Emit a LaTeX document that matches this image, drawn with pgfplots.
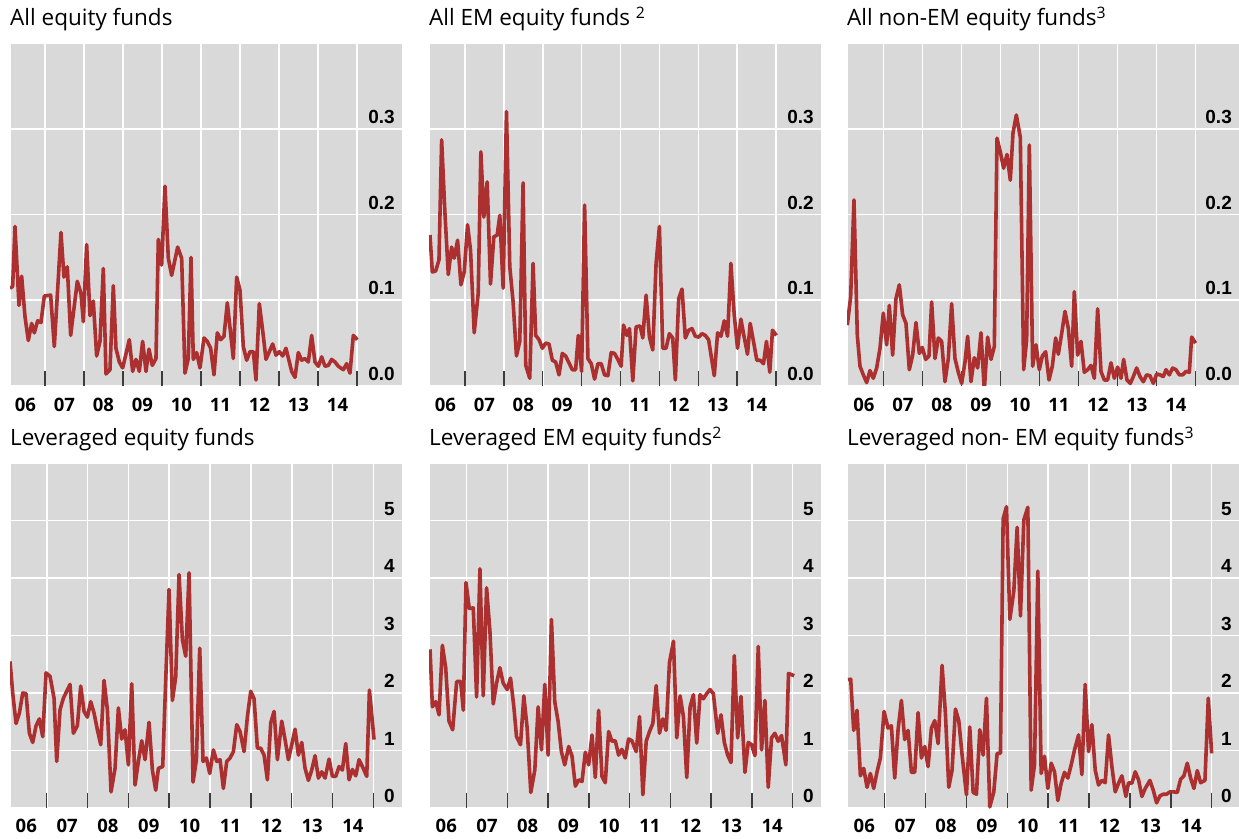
\documentclass[border=0pt]{standalone}
\usepackage{fontspec}
\setmainfont{Open Sans}
\newfontfamily\ticksf{Liberation Sans}
\usepackage{pgfplots}
\pgfplotsset{compat=1.18}
\definecolor{bg}{RGB}{217,217,217}
\definecolor{ln}{RGB}{172,48,48}
\definecolor{tk}{RGB}{60,60,60}
\pgfplotsset{
  panel/.style={
    scale only axis, width=392pt,
    axis background/.style={fill=bg},
    axis line style={draw=white, line width=0.8pt},
    ymin=0,
    ymajorgrids,
    major grid style={draw=white, line width=1.6pt},
    major tick length=0pt,
    xtick pos=left, ytick pos=right, yticklabel pos=right,
    xtick={2006.5,2007.5,2008.5,2009.5,2010.5,2011.5,2012.5,2013.5,2014.5},
    xticklabels={06,07,08,09,10,11,12,13,14},
    xticklabel style={font=\fontsize{18.5}{20}\selectfont\bfseries, inner sep=0pt, anchor=north, yshift=-12pt},
    yticklabel style={font=\ticksf\fontsize{19}{20}\selectfont\bfseries, inner sep=0pt, anchor=south east, xshift=-7pt, yshift=5pt},
    extra x ticks={2007,2008,2009,2010,2011,2012,2013,2014,2015},
    extra x tick labels={},
    extra x tick style={grid=major, major tick length=15pt, tick align=inside, tick style={draw=tk, line width=1.5pt}},
    title style={at={(0,1)}, anchor=base west, yshift=11pt, inner sep=0pt, font=\fontsize{22.5}{27}\selectfont},
  },
  dat/.style={draw=ln, line width=3.6pt, mark=none, line join=round},
  toprow/.style={panel, height=343pt, ymax=0.4, ytick={0,0.1,0.2,0.3}, yticklabels={0.0,0.1,0.2,0.3}},
  botrow/.style={panel, height=345pt, ymax=6, ytick={0,1,2,3,4,5}, yticklabels={0,1,2,3,4,5}},
}
\begin{document}
\begin{tikzpicture}
\useasboundingbox (0,0) rectangle (1239pt,838pt);
% x values are positions (pixels); the filter maps them to years
\begin{axis}[toprow, at={(10pt,452pt)}, anchor=south west, xmin=2006.103, xmax=2016.154,
  title={All equity funds}, x filter/.expression={2007+(x-135)/117}]
\addplot[dat] coordinates {(30,0.114) (38,0.116) (45,0.186) (57,0.094) (65,0.128) (75,0.081) (85,0.053) (95,0.073) (103,0.062) (113,0.076) (123,0.074) (133,0.105) (152,0.106) (163,0.046) (183,0.179) (192,0.127) (202,0.139) (212,0.059) (232,0.122) (243,0.108) (250,0.075) (260,0.165) (270,0.082) (280,0.099) (290,0.035) (300,0.052) (310,0.137) (318,0.014) (330,0.019) (340,0.117) (348,0.044) (358,0.028) (368,0.021) (388,0.054) (398,0.017) (408,0.031) (418,0.017) (428,0.052) (438,0.017) (447,0.043) (457,0.024) (468,0.032) (475,0.171) (485,0.141) (495,0.233) (505,0.149) (515,0.129) (533,0.162) (545,0.149) (555,0.015) (565,0.032) (573,0.150) (580,0.031) (590,0.039) (600,0.021) (612,0.056) (622,0.052) (632,0.044) (642,0.013) (652,0.062) (662,0.054) (672,0.058) (682,0.097) (700,0.032) (710,0.127) (720,0.112) (730,0.046) (740,0.030) (750,0.040) (760,0.040) (768,0.007) (778,0.096) (788,0.065) (798,0.031) (818,0.049) (828,0.036) (838,0.040) (848,0.035) (858,0.044) (875,0.017) (885,0.010) (895,0.039) (905,0.030) (915,0.032) (925,0.028) (935,0.059) (945,0.028) (955,0.023) (965,0.034) (975,0.023) (985,0.024) (995,0.031) (1005,0.028) (1015,0.023) (1030,0.019) (1040,0.026) (1050,0.015) (1060,0.059) (1072,0.054)};
\end{axis}
\begin{axis}[toprow, at={(429pt,452pt)}, anchor=south west, xmin=2006.077, xmax=2016.154,
  title={All EM equity funds \textsuperscript{2}}, x filter/.expression={2007+(x-135)/117}]
\addplot[dat] coordinates {(30,0.176) (37,0.133) (47,0.134) (57,0.147) (65,0.287) (75,0.201) (85,0.130) (95,0.162) (103,0.149) (113,0.170) (123,0.118) (133,0.133) (143,0.188) (152,0.158) (163,0.062) (175,0.108) (183,0.273) (192,0.197) (202,0.238) (212,0.119) (222,0.174) (232,0.176) (240,0.199) (250,0.114) (260,0.320) (270,0.139) (280,0.098) (290,0.035) (300,0.052) (310,0.237) (318,0.024) (330,0.009) (340,0.143) (348,0.059) (358,0.054) (368,0.044) (378,0.050) (388,0.049) (398,0.030) (408,0.028) (418,0.013) (428,0.038) (438,0.035) (448,0.027) (458,0.019) (468,0.019) (476,0.059) (486,0.017) (495,0.211) (505,0.032) (515,0.026) (525,0.008) (535,0.026) (545,0.026) (555,0.013) (565,0.012) (575,0.039) (585,0.038) (595,0.031) (605,0.023) (612,0.071) (622,0.059) (630,0.067) (640,0.006) (650,0.069) (662,0.070) (670,0.056) (680,0.106) (690,0.057) (700,0.042) (710,0.143) (720,0.186) (730,0.044) (740,0.044) (750,0.061) (760,0.056) (768,0.007) (778,0.102) (788,0.113) (798,0.056) (808,0.065) (818,0.067) (828,0.058) (838,0.057) (848,0.061) (858,0.059) (868,0.054) (885,0.012) (895,0.062) (905,0.058) (915,0.076) (925,0.058) (935,0.143) (945,0.083) (955,0.044) (965,0.078) (975,0.057) (985,0.037) (993,0.073) (1003,0.052) (1013,0.030) (1023,0.030) (1033,0.026) (1042,0.052) (1052,0.016) (1060,0.065) (1072,0.059)};
\end{axis}
\begin{axis}[toprow, at={(847pt,452pt)}, anchor=south west, xmin=2006.069, xmax=2016.12,
  title={All non-EM equity funds\textsuperscript{3}}, x filter/.expression={2007+(x-145)/117}]
\addplot[dat] coordinates {(37,0.071) (47,0.104) (57,0.217) (67,0.059) (75,0.023) (85,0.013) (95,0.004) (105,0.018) (115,0.009) (125,0.021) (135,0.044) (145,0.085) (155,0.048) (163,0.094) (173,0.036) (183,0.102) (193,0.118) (203,0.083) (213,0.073) (223,0.019) (233,0.036) (243,0.074) (253,0.038) (262,0.045) (272,0.031) (282,0.035) (290,0.098) (300,0.032) (310,0.056) (320,0.052) (330,0.005) (340,0.032) (350,0.096) (360,0.032) (370,0.016) (380,0.003) (390,0.028) (398,0.058) (408,0.005) (418,0.033) (428,0.021) (438,0.062) (448,-0.005) (458,0.057) (468,0.031) (478,0.046) (486,0.289) (496,0.273) (506,0.254) (516,0.270) (526,0.240) (534,0.295) (544,0.316) (556,0.290) (566,0.019) (575,0.054) (583,0.281) (593,0.023) (603,0.048) (613,0.019) (622,0.035) (632,0.040) (642,0.007) (652,0.023) (662,0.056) (670,0.037) (680,0.061) (690,0.087) (700,0.067) (710,0.023) (718,0.110) (728,0.036) (738,0.052) (748,0.016) (758,0.019) (768,0.024) (778,0.009) (788,0.090) (798,0.017) (808,0.007) (818,0.007) (828,0.027) (838,0.009) (848,0.022) (858,0.009) (866,0.031) (876,0.007) (886,0.003) (895,0.011) (905,0.021) (915,0.011) (925,0.005) (935,0.013) (945,0.012) (955,0.003) (965,0.014) (975,0.013) (985,0.011) (993,0.019) (1003,0.013) (1013,0.021) (1023,0.019) (1033,0.013) (1043,0.013) (1053,0.017) (1063,0.016) (1070,0.057) (1082,0.050)};
\end{axis}
\begin{axis}[botrow, at={(10pt,30pt)}, anchor=south west, xmin=2006.101, xmax=2015.70,
  xticklabel style={yshift=1pt},
  title={Leveraged equity funds}, x filter/.expression={2007+(x-140)/122.5}]
\addplot[dat] coordinates {(30,2.55) (38,2.00) (48,1.47) (58,1.65) (68,2.00) (78,1.99) (88,1.30) (98,1.14) (108,1.43) (118,1.55) (128,1.24) (138,2.35) (150,2.29) (162,1.91) (170,0.81) (180,1.71) (190,1.91) (200,2.03) (210,2.15) (220,1.30) (232,1.43) (242,2.12) (252,1.68) (262,1.58) (272,1.85) (282,1.65) (292,1.36) (302,1.10) (312,2.22) (322,1.71) (333,0.28) (345,0.69) (355,1.74) (365,1.20) (375,1.36) (385,0.75) (395,2.16) (405,0.40) (415,0.81) (425,1.17) (435,0.84) (447,1.49) (457,0.66) (467,0.31) (475,0.69) (488,0.72) (497,2.23) (507,3.80) (517,1.87) (527,2.28) (537,4.06) (547,2.93) (557,2.64) (567,4.09) (579,0.45) (589,0.84) (599,2.78) (609,0.81) (619,0.87) (629,0.60) (640,1.01) (650,0.81) (660,0.84) (670,0.34) (680,0.81) (690,0.87) (700,0.98) (710,1.45) (720,1.33) (732,0.98) (742,1.59) (752,2.03) (762,1.90) (772,1.04) (782,1.04) (792,0.92) (802,0.49) (812,1.48) (822,1.68) (832,0.84) (845,1.51) (855,1.19) (865,0.84) (875,1.10) (885,1.37) (895,0.92) (905,1.14) (915,0.69) (925,0.48) (935,0.66) (945,0.91) (955,0.52) (965,0.63) (975,0.52) (987,0.85) (997,0.55) (1007,0.55) (1017,0.72) (1027,0.66) (1037,1.12) (1047,0.49) (1057,0.67) (1067,0.56) (1077,0.84) (1087,0.72) (1100,0.55) (1108,2.05) (1122,1.19)};
\end{axis}
\begin{axis}[botrow, at={(429pt,30pt)}, anchor=south west, xmin=2006.076, xmax=2015.70,
  xticklabel style={yshift=1pt},
  title={Leveraged EM equity funds\textsuperscript{2}}, x filter/.expression={2007+(x-140)/122.5}]
\addplot[dat] coordinates {(30,2.76) (37,1.76) (47,1.85) (57,1.62) (67,2.83) (77,2.44) (87,1.51) (98,1.36) (110,2.20) (122,2.20) (130,1.70) (138,3.92) (148,3.47) (160,3.48) (170,1.93) (180,4.16) (190,1.95) (200,3.83) (210,3.08) (220,1.81) (230,2.17) (240,2.44) (250,2.17) (262,2.06) (272,2.26) (282,1.76) (290,1.24) (302,1.10) (312,1.95) (322,1.39) (333,0.27) (345,0.66) (355,1.76) (365,1.01) (375,2.15) (385,0.92) (395,3.28) (405,1.85) (415,1.51) (425,0.98) (435,0.75) (447,1.07) (457,0.90) (467,0.38) (477,0.49) (487,0.46) (497,0.97) (507,0.75) (517,1.27) (527,0.53) (537,1.70) (547,0.55) (557,0.44) (567,1.33) (577,1.16) (587,1.17) (597,0.92) (607,1.02) (617,0.87) (627,1.20) (637,1.17) (650,0.98) (660,1.59) (670,0.23) (680,1.16) (690,1.33) (700,1.47) (710,2.13) (720,1.30) (730,1.55) (740,1.35) (750,2.53) (762,2.90) (772,1.22) (782,1.95) (792,1.59) (802,0.53) (812,1.76) (822,1.97) (832,1.13) (842,1.97) (852,1.90) (862,1.99) (872,2.06) (882,1.99) (895,1.30) (905,1.62) (915,1.14) (925,0.92) (935,0.79) (945,2.65) (955,1.22) (965,1.94) (977,0.62) (987,1.14) (997,1.10) (1007,0.91) (1017,2.81) (1027,1.01) (1037,1.87) (1047,0.36) (1057,1.22) (1067,1.30) (1077,1.16) (1087,1.26) (1100,0.75) (1108,2.34) (1125,2.30)};
\end{axis}
\begin{axis}[botrow, at={(847pt,30pt)}, anchor=south west, xmin=2006.077, xmax=2015.67,
  xticklabel style={yshift=1pt},
  title={Leveraged non- EM equity funds\textsuperscript{3}}, x filter/.expression={2007+(x-150)/122.5}]
\addplot[dat] coordinates {(40,2.23) (48,2.24) (57,1.35) (67,1.70) (77,0.56) (87,0.69) (97,0.36) (107,0.60) (117,0.34) (127,0.63) (137,0.87) (148,1.68) (160,1.39) (170,1.43) (180,0.52) (190,1.36) (200,1.87) (210,1.19) (220,1.35) (230,0.62) (240,0.62) (250,1.66) (260,0.87) (270,1.07) (280,0.72) (290,1.39) (300,1.52) (310,1.12) (322,2.48) (332,1.64) (342,0.36) (352,0.66) (362,1.72) (372,1.52) (382,0.92) (395,0.23) (405,1.41) (415,0.27) (425,0.24) (435,1.36) (445,0.92) (455,1.91) (465,0.02) (477,0.28) (487,0.95) (497,0.95) (505,5.03) (515,5.24) (525,3.28) (537,3.77) (547,4.88) (557,3.34) (567,5.01) (579,5.23) (589,0.31) (599,0.75) (609,4.12) (619,0.60) (629,0.90) (639,0.34) (649,0.78) (659,0.63) (669,0.13) (679,0.43) (689,0.62) (699,0.52) (709,0.75) (719,1.01) (731,1.27) (741,0.58) (751,2.15) (761,0.98) (771,1.45) (781,0.66) (791,0.40) (801,0.48) (811,0.44) (821,1.27) (831,0.72) (841,0.28) (851,0.43) (861,0.56) (873,0.20) (881,0.44) (891,0.43) (901,0.63) (911,0.49) (921,0.20) (931,0.34) (945,0.48) (955,0.31) (965,0.09) (975,0.21) (985,0.24) (995,0.24) (1005,0.28) (1017,0.28) (1027,0.27) (1037,0.50) (1047,0.56) (1057,0.78) (1067,0.52) (1077,0.34) (1087,0.65) (1097,0.44) (1110,0.48) (1120,1.91) (1130,0.95)};
\end{axis}
\end{tikzpicture}
\end{document}
